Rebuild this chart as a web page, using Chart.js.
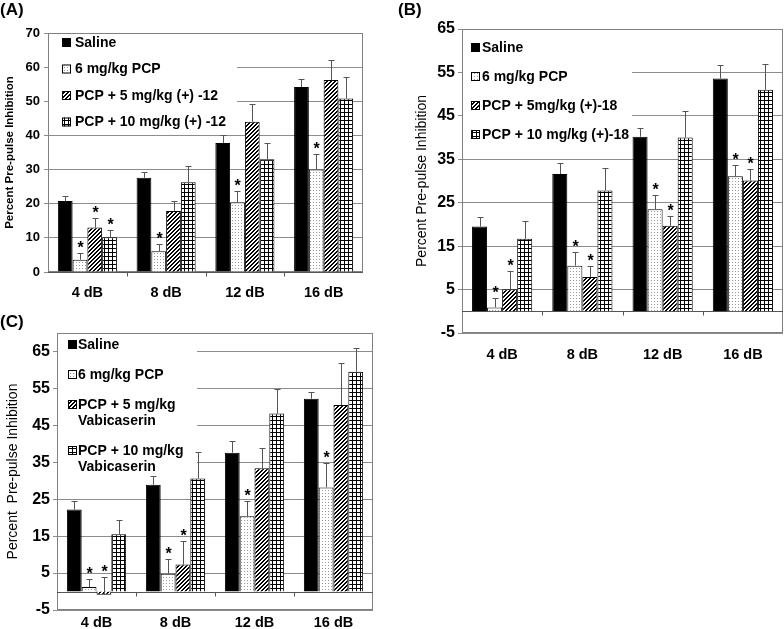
<!DOCTYPE html>
<html>
<head>
<meta charset="utf-8">
<script src="https://cdn.jsdelivr.net/npm/chart.js@4"></script>
<style>
  html, body { margin: 0; padding: 0; background: #fff; }
  body { width: 784px; height: 629px; position: relative; overflow: hidden; }
  .panel { position: absolute; }
</style>
</head>
<body>
<div class="panel" style="left:0;top:0;width:392px;height:310px"><canvas id="chartA"></canvas></div>
<div class="panel" style="left:392px;top:0;width:392px;height:370px"><canvas id="chartB"></canvas></div>
<div class="panel" style="left:0;top:312px;width:392px;height:317px"><canvas id="chartC"></canvas></div>
<script>
const FONT = '"Liberation Sans", Arial, sans-serif';

const categories = ['4 dB', '8 dB', '12 dB', '16 dB'];

// (A) (+)-12
const seriesA = ['Saline', '6 mg/kg PCP', 'PCP + 5 mg/kg (+) -12', 'PCP + 10 mg/kg (+) -12'];
const salineA = [20.8, 27.6, 37.8, 54.2];
const pcpA = [3.6, 6.1, 20.4, 30.0];
const low5A = [13.0, 17.9, 44.0, 56.2];
const high10A = [10.2, 26.3, 33.0, 50.8];
const salineErrA = [1.6, 1.6, 2.3, 2.3];
const pcpErrA = [2.0, 2.1, 3.2, 4.7];
const low5ErrA = [2.8, 2.8, 5.3, 5.9];
const high10ErrA = [2.1, 4.8, 4.8, 6.2];
const pcpStarA = [1, 1, 1, 1];
const low5StarA = [1, 0, 0, 0];
const high10StarA = [1, 0, 0, 0];
const yTicksA = [0, 10, 20, 30, 40, 50, 60, 70];

// (B) (+)-18
const seriesB = ['Saline', '6 mg/kg PCP', 'PCP + 5mg/kg (+)-18', 'PCP + 10 mg/kg (+)-18'];
const salineB = [19.5, 31.6, 40.2, 53.6];
const pcpB = [0.9, 10.5, 23.5, 31.1];
const low5B = [5.1, 7.9, 19.7, 30.1];
const high10B = [16.7, 27.8, 40.0, 51.0];
const salineErrB = [2.2, 2.6, 2.0, 3.0];
const pcpErrB = [2.1, 3.2, 3.3, 2.6];
const low5ErrB = [4.1, 2.6, 2.2, 2.6];
const high10ErrB = [4.1, 5.1, 6.2, 6.0];
const pcpStarB = [1, 1, 1, 1];
const low5StarB = [1, 1, 1, 1];
const high10StarB = [0, 0, 0, 0];
const yTicksB = [-5, 5, 15, 25, 35, 45, 55, 65];

// (C) Vabicaserin
const seriesC = ['Saline', '6 mg/kg PCP', 'PCP + 5 mg/kg\nVabicaserin', 'PCP + 10 mg/kg\nVabicaserin'];
const salineC = [22.2, 28.9, 37.6, 52.2];
const pcpC = [1.2, 4.8, 20.4, 28.2];
const low5C = [-0.9, 7.3, 33.4, 50.5];
const high10C = [15.5, 30.6, 48.2, 59.5];
const salineErrC = [2.3, 2.4, 3.1, 1.9];
const pcpErrC = [2.1, 4.0, 4.1, 6.5];
const low5ErrC = [4.8, 6.4, 5.5, 11.5];
const high10ErrC = [3.9, 7.1, 6.7, 6.5];
const pcpStarC = [1, 1, 1, 1];
const low5StarC = [1, 1, 0, 0];
const high10StarC = [0, 0, 0, 0];
const yTicksC = [-5, 5, 15, 25, 35, 45, 55, 65];

function pattern(kind) {
  const c = document.createElement('canvas');
  const n = kind === 'dots' ? 3 : 4;
  c.width = n; c.height = n;
  const g = c.getContext('2d');
  g.fillStyle = '#fff';
  g.fillRect(0, 0, n, n);
  g.fillStyle = '#000';
  if (kind === 'dots') { g.fillStyle = '#999'; g.fillRect(1, 1, 1, 1); }
  if (kind === 'grid') { g.fillRect(0, 0, n, 1); g.fillRect(0, 0, 1, n); }
  if (kind === 'diag') {
    for (let i = 0; i < n; i++) { g.fillRect(n - 1 - i, i, 1, 1); g.fillRect((n - i) % n, i, 1, 1); }
  }
  return g.createPattern(c, 'repeat');
}
const fills = ['#000', pattern('dots'), pattern('diag'), pattern('grid')];

// plot frame, zero line and category ticks
const framePlugin = {
  id: 'frame',
  beforeDatasetsDraw(chart) {
    const { ctx, chartArea: a, scales: { x, y } } = chart;
    ctx.save();
    ctx.strokeStyle = '#808080';
    ctx.lineWidth = 1;
    ctx.strokeRect(a.left + 0.5, a.top + 0.5, a.width - 1, a.height - 1);
    const y0 = Math.round(y.getPixelForValue(0)) + 0.5;
    ctx.strokeStyle = '#555';
    ctx.beginPath();
    ctx.moveTo(a.left, y0);
    ctx.lineTo(a.right, y0);
    for (let i = 1; i < categories.length; i++) {
      const px = Math.round(x.getPixelForValue(i - 0.5)) + 0.5;
      ctx.moveTo(px, y0);
      ctx.lineTo(px, y0 + 4);
    }
    ctx.stroke();
    ctx.restore();
  }
};

// legend in a white box at the top left of the plot
const legendPlugin = {
  id: 'boxLegend',
  beforeDatasetsDraw(chart, args, o) {
    const { ctx, chartArea: a } = chart;
    ctx.save();
    ctx.fillStyle = '#fff';
    ctx.fillRect(a.left + 1, a.top + 1, o.width, o.height);
    ctx.font = 'bold 14px ' + FONT;
    ctx.textBaseline = 'middle';
    let yy = a.top + o.first;
    chart.data.datasets.forEach(ds => {
      const lines = ds.label.split('\n');
      ctx.fillStyle = ds.backgroundColor;
      ctx.fillRect(a.left + o.swatch, yy - 5, 9, 9);
      ctx.strokeStyle = '#000';
      ctx.lineWidth = 1;
      ctx.strokeRect(a.left + o.swatch + 0.5, yy - 4.5, 8, 8);
      ctx.fillStyle = '#000';
      lines.forEach((ln, k) => ctx.fillText(ln, a.left + o.text, yy + k * o.lineH));
      yy += lines.length * o.lineH + o.gap;
    });
    ctx.restore();
  }
};

// upper error bars and significance stars
const errorPlugin = {
  id: 'errBars',
  afterDatasetsDraw(chart) {
    const { ctx, scales: { y } } = chart;
    ctx.save();
    ctx.strokeStyle = '#555';
    ctx.lineWidth = 1;
    ctx.fillStyle = '#000';
    ctx.font = 'bold 16px ' + FONT;
    ctx.textAlign = 'center';
    ctx.textBaseline = 'alphabetic';
    chart.data.datasets.forEach((ds, di) => {
      chart.getDatasetMeta(di).data.forEach((bar, i) => {
        const v = ds.data[i];
        const yv = y.getPixelForValue(v);
        const ye = Math.round(y.getPixelForValue(v + ds.errors[i])) + 0.5;
        const bx = Math.round(bar.x) + 0.5;
        ctx.beginPath();
        ctx.moveTo(bx, yv);
        ctx.lineTo(bx, ye);
        ctx.moveTo(bx - 3, ye);
        ctx.lineTo(bx + 3, ye);
        ctx.stroke();
        if (ds.stars[i]) ctx.fillText('*', bx, ye - 1);
      });
    });
    ctx.restore();
  }
};

function drawPanel(id, p) {
  new Chart(document.getElementById(id), {
    type: 'bar',
    data: {
      labels: categories,
      datasets: p.series.map((name, k) => ({
        label: name,
        data: p.values[k],
        errors: p.errors[k],
        stars: p.stars[k],
        backgroundColor: fills[k],
        borderColor: '#000',
        borderWidth: 1,
        categoryPercentage: 0.75,
        barPercentage: 1.0
      }))
    },
    options: {
      responsive: true,
      maintainAspectRatio: false,
      animation: false,
      layout: { padding: p.pad },
      plugins: {
        legend: { display: false },
        tooltip: { enabled: false },
        title: {
          display: true, text: p.title, align: 'start', color: '#000',
          font: { family: FONT, size: 17, weight: 'bold' },
          padding: p.titlePad
        },
        boxLegend: p.legend
      },
      scales: {
        x: {
          grid: { display: false, drawTicks: false },
          border: { display: false },
          ticks: { color: '#000', maxRotation: 0, padding: p.xPad, font: { family: FONT, size: 14.5, weight: 'bold' } },
          afterFit: s => { s.height = p.xHeight; }
        },
        y: {
          min: p.min, max: p.max,
          afterBuildTicks: s => { s.ticks = p.ticks.map(v => ({ value: v })); },
          grid: { color: '#8c8c8c', tickLength: 4 },
          border: { display: false },
          ticks: { color: '#000', padding: p.yPad, font: { family: FONT, size: p.tickSize, weight: 'bold' } },
          title: {
            display: true, text: p.yTitle, color: '#000',
            font: { family: FONT, size: p.yTitleSize, weight: p.yTitleWeight },
            padding: { top: p.yTitlePad, bottom: 0 }
          },
          afterFit: s => { s.width = p.yWidth; }
        }
      }
    },
    plugins: [framePlugin, legendPlugin, errorPlugin]
  });
}

drawPanel('chartA', {
  title: '(A)', titlePad: { top: 0, bottom: 12.6 },
  pad: { left: 0, right: 29, top: 0, bottom: 0 },
  series: seriesA,
  values: [salineA, pcpA, low5A, high10A],
  errors: [salineErrA, pcpErrA, low5ErrA, high10ErrA],
  stars: [[0, 0, 0, 0], pcpStarA, low5StarA, high10StarA],
  min: 0, max: 70, ticks: yTicksA, tickSize: 13, yPad: 4, yWidth: 48,
  yTitle: 'Percent Pre-pulse Inhibition', yTitleSize: 11.5, yTitleWeight: 'bold', yTitlePad: 3,
  xHeight: 38, xPad: 12,
  legend: { width: 188, height: 94, first: 10, lineH: 16, gap: 10.5, swatch: 14, text: 27 }
});

drawPanel('chartB', {
  title: '(B)', titlePad: { top: 0, bottom: 8.6 },
  pad: { left: 6, right: 1, top: 0, bottom: 0 },
  series: seriesB,
  values: [salineB, pcpB, low5B, high10B],
  errors: [salineErrB, pcpErrB, low5ErrB, high10ErrB],
  stars: [[0, 0, 0, 0], pcpStarB, low5StarB, high10StarB],
  min: -5, max: 65, ticks: yTicksB, tickSize: 16, yPad: 3, yWidth: 64,
  yTitle: 'Percent Pre-pulse Inhibition', yTitleSize: 14, yTitleWeight: 'normal', yTitlePad: 16,
  xHeight: 37, xPad: 13,
  legend: { width: 169, height: 124, first: 19, lineH: 16, gap: 13, swatch: 9, text: 20 }
});

drawPanel('chartC', {
  title: '(C)', titlePad: { top: 0, bottom: 0.6 },
  pad: { left: 0, right: 19, top: 0, bottom: 0 },
  series: seriesC,
  values: [salineC, pcpC, low5C, high10C],
  errors: [salineErrC, pcpErrC, low5ErrC, high10ErrC],
  stars: [[0, 0, 0, 0], pcpStarC, low5StarC, high10StarC],
  min: -5, max: 70, ticks: yTicksC, tickSize: 16, yPad: 3, yWidth: 57,
  yTitle: 'Percent  Pre-pulse Inhibition', yTitleSize: 14, yTitleWeight: 'normal', yTitlePad: 5,
  xHeight: 19, xPad: 4,
  legend: { width: 139, height: 156, first: 12, lineH: 16, gap: 14, swatch: 11, text: 21 }
});
</script>
</body>
</html>
